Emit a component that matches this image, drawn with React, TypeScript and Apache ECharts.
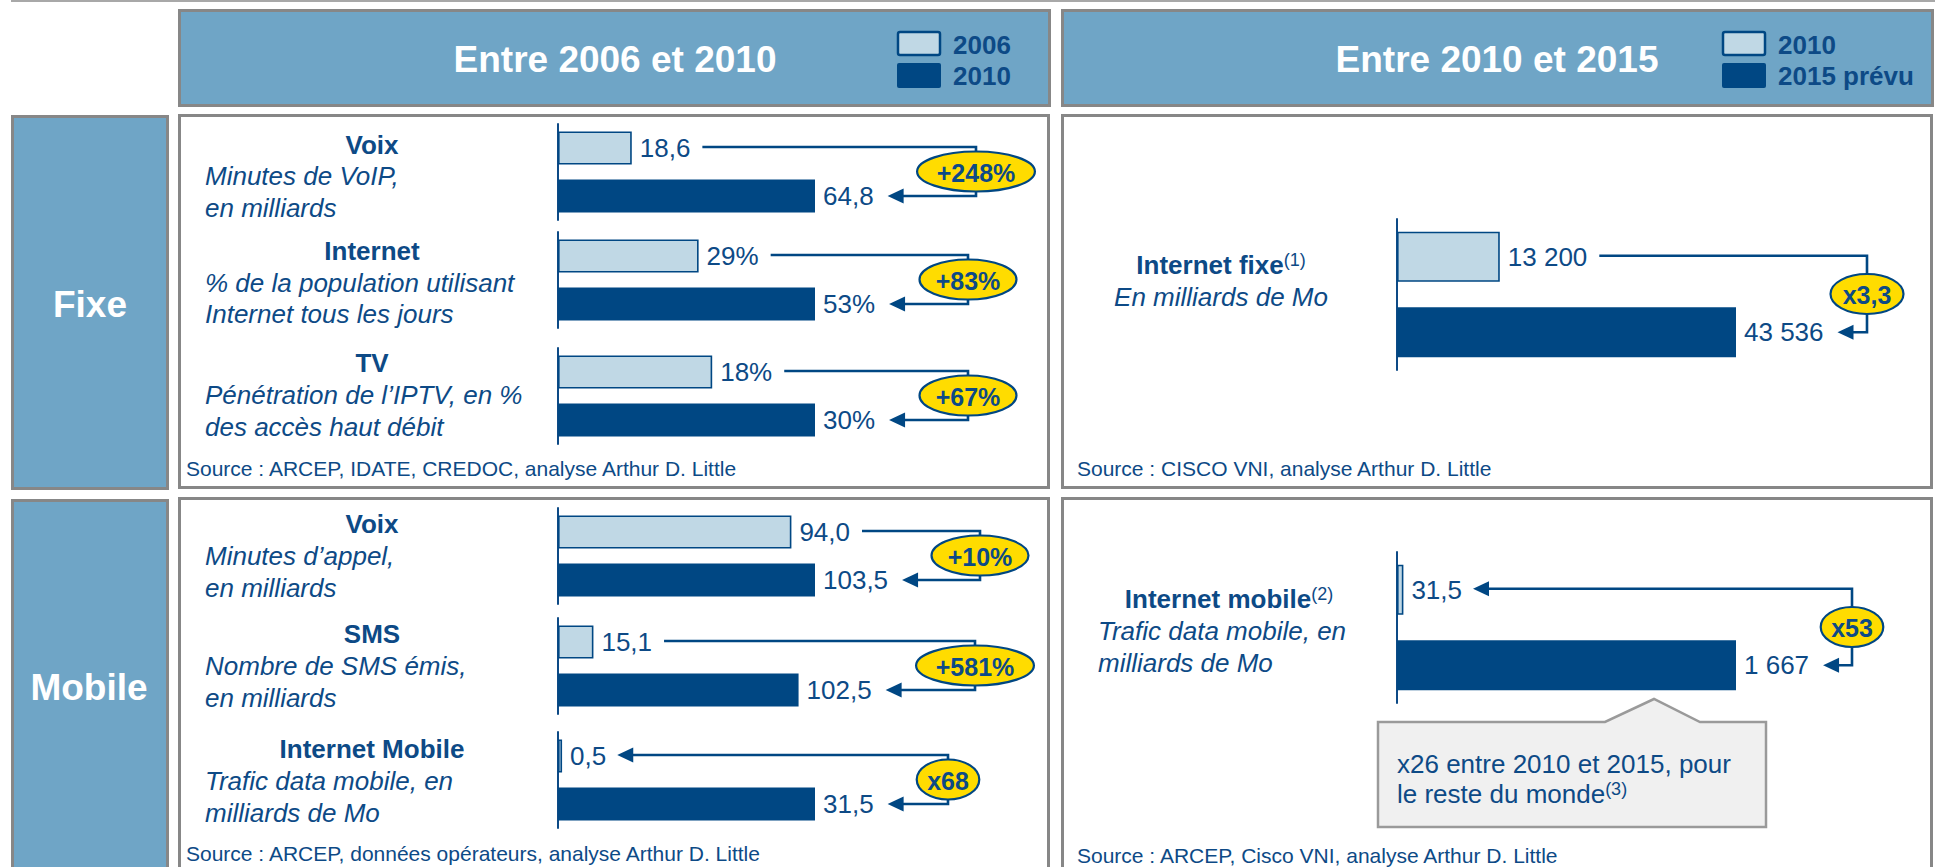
import React, { useEffect, useRef } from "react";
import * as echarts from "echarts";

const FONT = "'Liberation Sans', Arial, Helvetica, sans-serif";
const DARK = "#004783";
const TEXT = "#0d4a86";
const LIGHT = "#c0d8e5";
const HEADER = "#6fa5c6";
const BORDER = "#878787";
const YELLOW = "#ffdc00";

// ---------- data ----------
const headerTitles = ["Entre 2006 et 2010", "Entre 2010 et 2015"];
const legendLeft = ["2006", "2010"];
const legendRight = ["2010", "2015 prévu"];
const sectionLabels = ["Fixe", "Mobile"];
const sources = [
  "Source : ARCEP, IDATE, CREDOC, analyse Arthur D. Little",
  "Source : ARCEP, données opérateurs, analyse Arthur D. Little",
  "Source : CISCO VNI, analyse Arthur D. Little",
  "Source : ARCEP, Cisco VNI, analyse Arthur D. Little",
];
const metricTitles = ["Voix", "Internet", "TV", "Voix", "SMS", "Internet Mobile", "Internet fixe", "Internet mobile"];
const titleNotes = ["", "", "", "", "", "", "(1)", "(2)"];
const metricSubtitles = [
  ["Minutes de VoIP,", "en milliards"],
  ["% de la population utilisant", "Internet tous les jours"],
  ["Pénétration de l’IPTV, en %", "des accès haut débit"],
  ["Minutes d’appel,", "en milliards"],
  ["Nombre de SMS émis,", "en milliards"],
  ["Trafic data mobile, en", "milliards de Mo"],
  ["En milliards de Mo"],
  ["Trafic data mobile, en", "milliards de Mo"],
];
const startValues = [18.6, 29, 18, 94.0, 15.1, 0.5, 13200, 31.5];
const endValues = [64.8, 53, 30, 103.5, 102.5, 31.5, 43536, 1667];
const startDecimals = [1, 0, 0, 1, 1, 1, 0, 1];
const endDecimals = [1, 0, 0, 1, 1, 1, 0, 0];
const unitSuffix = ["", "%", "%", "", "", "", "", ""];
const growthLabels = ["+248%", "+83%", "+67%", "+10%", "+581%", "x68", "x3,3", "x53"];
const arrowAtStart = [false, false, false, false, false, true, false, true];
const axisMax = [64.8, 53, 30, 103.5, 109.5, 31.5, 43536, 1667];
const calloutLines = ["x26 entre 2010 et 2015, pour", "le reste du monde", "(3)"];

// ---------- layout ----------
const L = { left: 558, width: 257, height: 96, barWidth: 33, titleX: 372, subX: 205, subAlign: "left" };
const R = { left: 1397, width: 339, height: 151, barWidth: 50 };
const rowLayout: any[] = [
  { ...L, top: 124, elbowX: 976, titleY: 145, subY: [176, 208] },
  { ...L, top: 232, elbowX: 968, titleY: 251, subY: [283, 314] },
  { ...L, top: 348, elbowX: 968, titleY: 363, subY: [395, 427] },
  { ...L, top: 508, elbowX: 980, titleY: 524, subY: [556, 588] },
  { ...L, top: 618, elbowX: 975, titleY: 634, subY: [666, 698] },
  { ...L, top: 732, elbowX: 948, titleY: 749, subY: [781, 813] },
  { ...R, top: 219, elbowX: 1867, titleX: 1221, titleY: 265, subX: 1221, subAlign: "center", subY: [297] },
  { ...R, top: 552, elbowX: 1852, titleX: 1229, titleY: 599, subX: 1098, subAlign: "left", subY: [631, 663] },
];

function fmt(v: number, d: number, suffix: string) {
  const s = v.toFixed(d);
  const parts = s.split(".");
  const intS = parts[0].replace(/\B(?=(\d{3})+(?!\d))/g, " ");
  return intS + (parts[1] ? "," + parts[1] : "") + suffix;
}

let ctx: CanvasRenderingContext2D | null = null;
function measure(text: string, size: number, weight = "normal") {
  if (!ctx) ctx = document.createElement("canvas").getContext("2d");
  ctx!.font = `${weight} ${size}px ${FONT}`;
  return ctx!.measureText(text).width;
}

export default function App() {
  const ref = useRef<HTMLDivElement>(null);
  useEffect(() => {
    if (!ref.current) return;
    const chart = echarts.init(ref.current, undefined, { renderer: "svg" });
    const labelText = (i: number, k: number) =>
      k === 0 ? fmt(startValues[i], startDecimals[i], unitSuffix[i]) : fmt(endValues[i], endDecimals[i], unitSuffix[i]);

    chart.setOption({
      animation: false,
      backgroundColor: "#ffffff",
      grid: rowLayout.map((r) => ({ left: r.left, top: r.top, width: r.width, height: r.height })),
      xAxis: rowLayout.map((r, i) => ({ type: "value", gridIndex: i, min: 0, max: axisMax[i], show: false })),
      yAxis: rowLayout.map((r, i) => ({
        type: "category",
        gridIndex: i,
        inverse: true,
        data: i < 6 ? legendLeft : legendRight,
        axisLine: { show: true, lineStyle: { color: TEXT, width: 2 } },
        axisTick: { show: false },
        axisLabel: { show: false },
        splitLine: { show: false },
      })),
      series: rowLayout.map((r, i) => ({
        type: "bar",
        xAxisIndex: i,
        yAxisIndex: i,
        barWidth: r.barWidth,
        z: 3,
        data: [
          { value: startValues[i], itemStyle: { color: LIGHT, borderColor: DARK, borderWidth: 1.6 } },
          { value: endValues[i], itemStyle: { color: DARK } },
        ],
        label: {
          show: true,
          position: "right",
          distance: 8,
          fontSize: 26,
          fontFamily: FONT,
          color: TEXT,
          formatter: (p: any) => labelText(i, p.dataIndex),
        },
      })),
    });

    const g: any[] = [];
    const rect = (x: number, y: number, w: number, h: number, fill: string, stroke?: string, lw = 3, z = 0) =>
      g.push({ type: "rect", z, shape: { x, y, width: w, height: h }, style: { fill, stroke: stroke || null, lineWidth: stroke ? lw : 0 } });
    const text = (x: number, y: number, t: string, size: number, opts: any = {}) =>
      g.push({
        type: "text",
        x,
        y,
        z: opts.z ?? 8,
        style: {
          text: t,
          fill: opts.fill || TEXT,
          fontSize: size,
          fontFamily: FONT,
          fontWeight: opts.weight || "normal",
          fontStyle: opts.style || "normal",
          align: opts.align || "left",
          verticalAlign: "middle",
          rich: opts.rich,
        },
      });

    // top rule
    rect(11, 0, 1924, 2, "#a8a8a8");
    // headers
    rect(179.5, 10.5, 870, 95, HEADER, BORDER);
    rect(1062.5, 10.5, 870, 95, HEADER, BORDER);
    // section boxes
    rect(12.5, 116.5, 155, 372, HEADER, BORDER);
    rect(12.5, 500.5, 155, 380, HEADER, BORDER);
    // panels
    rect(179.5, 115.5, 869, 372, "#ffffff", BORDER);
    rect(179.5, 498.5, 869, 380, "#ffffff", BORDER);
    rect(1062.5, 115.5, 869, 372, "#ffffff", BORDER);
    rect(1062.5, 498.5, 869, 380, "#ffffff", BORDER);

    text(615, 59, headerTitles[0], 37, { fill: "#ffffff", weight: "bold", align: "center" });
    text(1497, 59, headerTitles[1], 37, { fill: "#ffffff", weight: "bold", align: "center" });
    text(90, 304, sectionLabels[0], 37, { fill: "#ffffff", weight: "bold", align: "center" });
    text(89, 687, sectionLabels[1], 37, { fill: "#ffffff", weight: "bold", align: "center" });

    // legends
    [[898, 953, legendLeft], [1723, 1778, legendRight]].forEach(([bx, tx, labels]: any) => {
      g.push({ type: "rect", z: 2, shape: { x: bx, y: 32, width: 42, height: 23, r: 2 }, style: { fill: LIGHT, stroke: DARK, lineWidth: 2.5 } });
      g.push({ type: "rect", z: 2, shape: { x: bx - 1, y: 63, width: 44, height: 25, r: 2 }, style: { fill: DARK } });
      text(tx, 45, labels[0], 26, { weight: "bold" });
      text(tx, 76, labels[1], 26, { weight: "bold" });
    });

    // sources
    text(186, 468, sources[0], 21);
    text(186, 853, sources[1], 21);
    text(1077, 468, sources[2], 21);
    text(1077, 855, sources[3], 21);

    // metric titles / subtitles
    rowLayout.forEach((r, i) => {
      if (titleNotes[i]) {
        text(r.titleX, r.titleY, `{t|${metricTitles[i]}}{s|${titleNotes[i]}}`, 26, {
          weight: "bold",
          align: "center",
          rich: {
            t: { fontSize: 26, fontWeight: "bold", fontFamily: FONT, fill: TEXT },
            s: { fontSize: 18, fontFamily: FONT, fill: TEXT, verticalAlign: "top", padding: [0, 0, 10, 0] },
          },
        });
      } else {
        text(r.titleX, r.titleY, metricTitles[i], 26, { weight: "bold", align: "center" });
      }
      metricSubtitles[i].forEach((s, k) => text(r.subX, r.subY[k], s, 26, { style: "italic", align: r.subAlign }));
    });

    // connectors & growth badges
    const AL = 16;
    const AH = 7.5;
    rowLayout.forEach((r, i) => {
      const p0 = chart.convertToPixel({ gridIndex: i } as any, [startValues[i], 0]) as number[];
      const p1 = chart.convertToPixel({ gridIndex: i } as any, [endValues[i], 1]) as number[];
      const lab0End = p0[0] + 8 + measure(labelText(i, 0), 26);
      const lab1End = p1[0] + 8 + measure(labelText(i, 1), 26);
      const y0 = p0[1] - 1;
      const y1 = p1[1];
      const ex = r.elbowX;
      const sx = arrowAtStart[i] ? lab0End + 11 : lab0End + 12;
      const tx = lab1End + 14;
      g.push({
        type: "polyline",
        z: 5,
        shape: { points: [[arrowAtStart[i] ? sx + AL - 2 : sx, y0], [ex, y0], [ex, y1], [tx + AL - 2, y1]] },
        style: { stroke: DARK, lineWidth: 2.6, fill: null },
      });
      g.push({ type: "polygon", z: 5, shape: { points: [[tx, y1], [tx + AL, y1 - AH], [tx + AL, y1 + AH]] }, style: { fill: DARK } });
      if (arrowAtStart[i]) {
        g.push({ type: "polygon", z: 5, shape: { points: [[sx, y0], [sx + AL, y0 - AH], [sx + AL, y0 + AH]] }, style: { fill: DARK } });
      }
      const tw = measure(growthLabels[i], 25, "bold");
      const cy = (y0 + y1) / 2;
      g.push({ type: "ellipse", z: 6, shape: { cx: ex, cy, rx: tw * 0.75, ry: 20 }, style: { fill: YELLOW, stroke: DARK, lineWidth: 2.2 } });
      text(ex, cy + 1, growthLabels[i], 25, { weight: "bold", align: "center", z: 7 });
    });

    // callout box
    g.push({
      type: "polygon",
      z: 4,
      shape: { points: [[1378, 722], [1605, 722], [1654, 699], [1700, 722], [1766, 722], [1766, 827], [1378, 827]] },
      style: { fill: "#f0f0f0", stroke: "#9a9a9a", lineWidth: 2.5 },
    });
    text(1397, 764, calloutLines[0], 26, { z: 8 });
    text(1397, 794, `{r|${calloutLines[1]}}{s|${calloutLines[2]}}`, 26, {
      z: 8,
      rich: {
        r: { fontSize: 26, fontFamily: FONT, fill: TEXT },
        s: { fontSize: 18, fontFamily: FONT, fill: TEXT, verticalAlign: "top", padding: [0, 0, 10, 0] },
      },
    });

    chart.setOption({ graphic: g });

    return () => chart.dispose();
  }, []);

  return <div ref={ref} style={{ position: "absolute", left: 0, top: 0, width: 1935, height: 867 }} />;
}
